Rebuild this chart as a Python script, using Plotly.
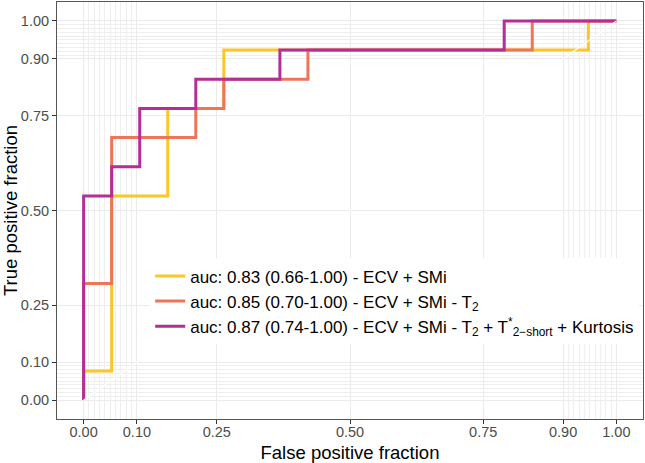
import plotly.graph_objects as go

# ROC step vertices as (false positive count, true positive count)
n_neg = 19
n_pos = 13

fp_ecv_smi = [0, 0, 1, 1, 3, 3, 5, 5, 18, 18, 19]
tp_ecv_smi = [0, 1, 1, 7, 7, 10, 10, 12, 12, 13, 13]

fp_ecv_smi_t2 = [0, 0, 1, 1, 4, 4, 5, 5, 8, 8, 16, 16, 19]
tp_ecv_smi_t2 = [0, 4, 4, 9, 9, 10, 10, 11, 11, 12, 12, 13, 13]

fp_full = [0, 0, 1, 1, 2, 2, 4, 4, 7, 7, 15, 15, 19]
tp_full = [0, 7, 7, 8, 8, 10, 10, 11, 11, 12, 12, 13, 13]

labels = [
    "auc: 0.83 (0.66-1.00) - ECV + SMi",
    "auc: 0.85 (0.70-1.00) - ECV + SMi - T<sub>2</sub>",
    "auc: 0.87 (0.74-1.00) - ECV + SMi - T<sub>2</sub> + T<sup>*</sup><sub>2\u2212short</sub> + Kurtosis",
]
colors = ["#F9C62B", "#EF7559", "#B42E97"]

tick_vals = [0, 0.1, 0.25, 0.5, 0.75, 0.9, 1.0]
tick_text = ["0.00", "0.10", "0.25", "0.50", "0.75", "0.90", "1.00"]
minor_vals = [0.01, 0.02, 0.03, 0.04, 0.05, 0.06, 0.07, 0.08, 0.09,
              0.91, 0.92, 0.93, 0.94, 0.95, 0.96, 0.97, 0.98, 0.99]
diag = [0, 1]

FONT = "Liberation Sans, Arial, sans-serif"

fig = go.Figure()
series = [(fp_ecv_smi, tp_ecv_smi), (fp_ecv_smi_t2, tp_ecv_smi_t2), (fp_full, tp_full)]
for (fp, tp), lab, col in zip(series, labels, colors):
    fig.add_trace(go.Scatter(
        x=[v / n_neg for v in fp], y=[v / n_pos for v in tp],
        mode="lines", name=lab, line=dict(color=col, width=3),
    ))

fig.add_trace(go.Scatter(x=diag, y=diag, mode="lines", showlegend=False,
                         line=dict(color="white", width=1.2), hoverinfo="skip"))

axis_common = dict(
    range=[-0.05, 1.05], automargin=False,
    tickmode="array", tickvals=tick_vals, ticktext=tick_text,
    ticks="outside", ticklen=4, tickwidth=1, tickcolor="#333333",
    tickfont=dict(family=FONT, size=14.5, color="#4D4D4D"),
    showgrid=True, gridcolor="#EBEBEB", gridwidth=1.1,
    minor=dict(tickmode="array", tickvals=minor_vals, showgrid=True,
               gridcolor="#EFEFEF", gridwidth=0.6, ticks=""),
    zeroline=False, showline=True, linecolor="#555555", linewidth=1, mirror=True,
)

fig.update_layout(
    width=645, height=463, autosize=False,
    margin=dict(l=57, r=2, t=2, b=44),
    paper_bgcolor="white", plot_bgcolor="white",
    font=dict(family=FONT, color="black"),
    xaxis=dict(axis_common, ticklabelstandoff=-4,
               title=dict(text="False positive fraction",
                          font=dict(family=FONT, size=18.5, color="black"))),
    yaxis=dict(axis_common, title=dict(text="True positive fraction",
                                        font=dict(family=FONT, size=18.5, color="black"))),
    legend=dict(x=0.159, y=0.385, xanchor="left", yanchor="top",
                bgcolor="white", borderwidth=0,
                font=dict(family=FONT, size=17, color="black"),
                tracegroupgap=0, itemwidth=30),
)

fig.write_html("out.html", config={"displayModeBar": False},
               post_script="document.body.style.margin='0';")
